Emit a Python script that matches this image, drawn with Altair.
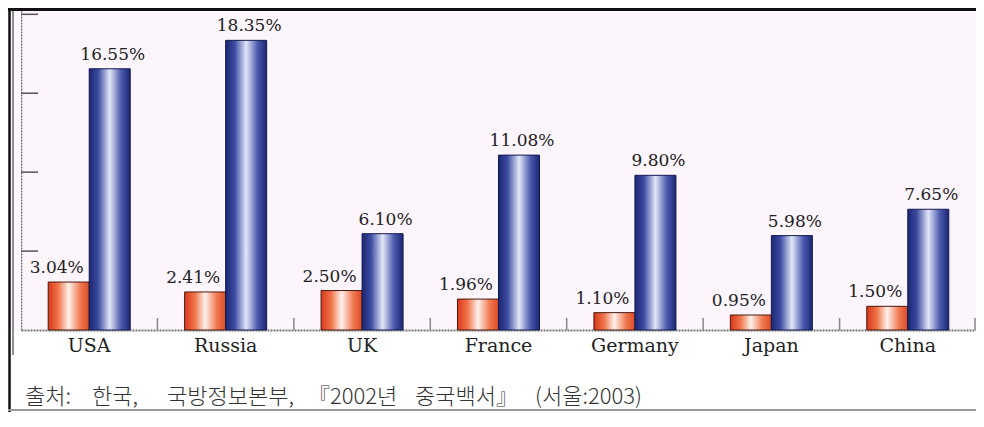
import altair as alt
import pandas as pd

countries = ["USA", "Russia", "UK", "France", "Germany", "Japan", "China"]
share_red = [3.04, 2.41, 2.50, 1.96, 1.10, 0.95, 1.50]
share_blue = [16.55, 18.35, 6.10, 11.08, 9.80, 5.98, 7.65]
series = ["red", "blue"]
y_ticks = [5, 10, 15, 20]
caption = "출처: 한국, 국방정보본부,『2002년 중국백서』(서울:2003)"
caption_parts = ["출처:", "한국,", "국방정보본부,", "『2002년", "중국백서』", "(서울:2003)"]

rows = []
for c, a, b in zip(countries, share_red, share_blue):
    rows.append({"country": c, "series": "red", "value": a, "label": f"{a:.2f}%"})
    rows.append({"country": c, "series": "blue", "value": b, "label": f"{b:.2f}%"})
df = pd.DataFrame(rows)

W, H = 955, 322
TOTAL_H = 405
PAD_L = 13
PINK = "#fcf5fc"
# caption segment left edges in plot pixels (layout only)
cap_x = [4, 71, 146, 287, 394, 514]

x_scale = alt.Scale(domain=countries, paddingInner=0, paddingOuter=0)
y_scale = alt.Scale(domain=[0, 20.4], nice=False, zero=True)
xo_scale = alt.Scale(domain=series, paddingInner=0, paddingOuter=0.663)

x_axis = alt.Axis(title=None, labelAngle=0, ticks=False,
                  domainDash=[2, 1], domainColor="#777", domainWidth=2,
                  labelFont="DejaVu Serif", labelFontSize=19,
                  labelColor="#222", labelPadding=6, labelBaseline="top")
y_axis = alt.Axis(title=None, labels=False, ticks=False, grid=False,
                  domainDash=[2, 1], domainColor="#666", domainWidth=1.5)

x_enc = alt.X("country:N", sort=countries, scale=x_scale, axis=x_axis)
y_enc = alt.Y("value:Q", scale=y_scale, axis=y_axis)
xo_enc = alt.XOffset("series:N", scale=xo_scale)

grad_red = alt.Gradient(gradient="linear", x1=0, x2=1, y1=0, y2=0, stops=[
    alt.GradientStop(color="#d8381a", offset=0),
    alt.GradientStop(color="#f0754a", offset=0.25),
    alt.GradientStop(color="#fff1ec", offset=0.5),
    alt.GradientStop(color="#f07a52", offset=0.78),
    alt.GradientStop(color="#de4a24", offset=1),
])
grad_blue = alt.Gradient(gradient="linear", x1=0, x2=1, y1=0, y2=0, stops=[
    alt.GradientStop(color="#1c2672", offset=0),
    alt.GradientStop(color="#3c4ca2", offset=0.22),
    alt.GradientStop(color="#e2e6f8", offset=0.5),
    alt.GradientStop(color="#4a5aae", offset=0.78),
    alt.GradientStop(color="#1c2672", offset=1),
])

base = alt.Chart(df)

# decorations
deco = pd.DataFrame({"k": [0]})
left_pink = alt.Chart(deco).mark_rect(fill=PINK).encode(
    x=alt.value(-PAD_L + 2), x2=alt.value(0), y=alt.value(0), y2=alt.value(H))
frame_top = alt.Chart(deco).mark_rule(color="#111", strokeWidth=3).encode(
    x=alt.value(-PAD_L), x2=alt.value(W), y=alt.value(1.5))
frame_left = alt.Chart(deco).mark_rule(color="#111", strokeWidth=2.5).encode(
    x=alt.value(-PAD_L + 1.5), y=alt.value(0), y2=alt.value(TOTAL_H - 1))
frame_inner = alt.Chart(deco).mark_rule(color="#222", strokeWidth=1).encode(
    x=alt.value(-PAD_L + 5), y=alt.value(0), y2=alt.value(H + 25))
frame_bottom = alt.Chart(deco).mark_rule(color="#999", strokeWidth=2).encode(
    x=alt.value(-PAD_L), x2=alt.value(W), y=alt.value(TOTAL_H - 3))

red_filter = alt.FieldEqualPredicate(field="series", equal="red")
blue_filter = alt.FieldEqualPredicate(field="series", equal="blue")

red_bars = base.transform_filter(red_filter).mark_bar(
    color=grad_red, stroke="#4a1a10", strokeWidth=1).encode(x=x_enc, xOffset=xo_enc, y=y_enc)
blue_bars = base.transform_filter(blue_filter).mark_bar(
    color=grad_blue, stroke="#141a50", strokeWidth=1).encode(x=x_enc, xOffset=xo_enc, y=y_enc)

red_text = base.transform_filter(red_filter).mark_text(
    baseline="bottom", dy=-5, dx=-12, font="DejaVu Serif", fontSize=17, color="#222").encode(
    x=x_enc, xOffset=xo_enc, y=y_enc, text="label:N")
blue_text = base.transform_filter(blue_filter).mark_text(
    baseline="bottom", dy=-5, dx=3, font="DejaVu Serif", fontSize=17, color="#222").encode(
    x=x_enc, xOffset=xo_enc, y=y_enc, text="label:N")

ytick_df = pd.DataFrame({"value": y_ticks})
y_tick_rules = alt.Chart(ytick_df).mark_rule(color="#555", strokeWidth=1.5).encode(
    y=y_enc, x=alt.value(0), x2=alt.value(17))

xtick_df = pd.DataFrame({"country": countries[1:]})
x_tick_rules = alt.Chart(xtick_df).mark_rule(color="#888", strokeWidth=1.5).encode(
    x=alt.X("country:N", sort=countries, scale=x_scale, axis=x_axis, bandPosition=0),
    y=alt.value(H - 12), y2=alt.value(H))
x_tick_end = alt.Chart(deco).mark_rule(color="#888", strokeWidth=1.5).encode(
    x=alt.value(W - 1), y=alt.value(H - 12), y2=alt.value(H))

cap_layers = []
for part, px in zip(caption_parts, cap_x):
    cap_layers.append(
        alt.Chart(pd.DataFrame({"text": [part]})).mark_text(
            align="left", baseline="middle", font="Noto Sans CJK KR",
            fontSize=22, fontWeight=300, color="#333").encode(
            x=alt.value(px), y=alt.value(389), text="text:N"))

chart = alt.layer(
    left_pink, red_bars, blue_bars, red_text, blue_text, y_tick_rules, x_tick_rules,
    x_tick_end, frame_top, frame_left, frame_inner, frame_bottom, *cap_layers
).properties(
    width=W, height=H,
    padding={"left": PAD_L, "top": 0, "right": 0, "bottom": TOTAL_H - H},
    autosize=alt.AutoSizeParams(type="none"),
    background="white",
).configure_view(fill=PINK, stroke=None)

chart.save("out.html", embed_options={"renderer": "svg", "actions": False})
